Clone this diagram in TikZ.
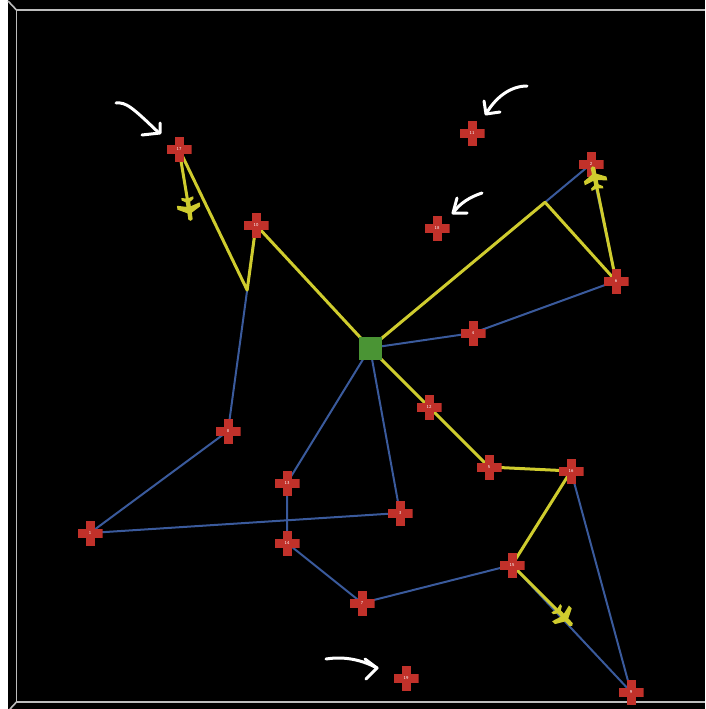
\documentclass[tikz,border=0pt]{standalone}
\usetikzlibrary{calc}
\definecolor{bgblack}{HTML}{000000}
\definecolor{framegrey}{HTML}{BDBDBD}
\definecolor{edgeblue}{HTML}{3A5A9C}
\definecolor{routeyellow}{HTML}{CFCC2E}
\definecolor{crossred}{HTML}{C1312A}
\definecolor{hubgreen}{HTML}{4A9434}
\pgfdeclarelayer{back}
\pgfdeclarelayer{bg}
\pgfsetlayers{back,bg,main}
\tikzset{
  crossnode/.style={inner sep=0pt, minimum size=25pt, text=white,
    font=\sffamily\fontsize{4.5}{5}\selectfont,
    path picture={
      \fill[crossred] ([xshift=-4.5pt]path picture bounding box.north) rectangle ([xshift=4.5pt]path picture bounding box.south);
      \fill[crossred] ([yshift=4.5pt]path picture bounding box.west) rectangle ([yshift=-4.5pt]path picture bounding box.east);
    }},
  hubnode/.style={fill=hubgreen, minimum size=23pt, inner sep=0pt},
  blueedge/.style={draw=edgeblue, line width=2pt},
  yellowedge/.style={draw=routeyellow, line width=3pt, line join=round},
  handarrow/.style={draw=white, line width=3pt, line cap=round, line join=round},
  frameline/.style={draw=framegrey, line width=1.6pt},
  plane/.pic={
    \begin{scope}[x=1pt,y=1pt]
    \fill[routeyellow] (12,0) -- (10.5,2.2) -- (4,2.2) -- (-1,11.5) -- (-5,11.5) -- (-2.5,2.2) -- (-7,2.2) -- (-9.5,6) -- (-12,6) -- (-10.5,0) -- (-12,-6) -- (-9.5,-6) -- (-7,-2.2) -- (-2.5,-2.2) -- (-5,-11.5) -- (-1,-11.5) -- (4,-2.2) -- (10.5,-2.2) -- cycle;
    \end{scope}
  }
}
\begin{document}
\begin{tikzpicture}[x=1pt,y=-1pt]
\useasboundingbox (0,0) rectangle (705,709);
\begin{pgfonlayer}{back}
\fill[white] (0,0) rectangle (705,709);
\fill[bgblack] (8,0) rectangle (705,709);
\draw[frameline] (705,10) -- (16.5,10) -- (16.5,702) -- (705,702);
\draw[frameline] (8,1) -- (16.5,10);
\draw[frameline] (16.5,702) -- (10,709);
\end{pgfonlayer}

% nodes
\node[hubnode] (hub) at (370,348) {};
\node[crossnode] (n17) at (179,149) {17};
\node[crossnode] (n10) at (256,225) {10};
\node[crossnode] (n11) at (472,133) {11};
\node[crossnode] (n18) at (437,228) {18};
\node[crossnode] (n2) at (591,164) {2};
\node[crossnode] (n6) at (616,281) {6};
\node[crossnode] (n4) at (473,333) {4};
\node[crossnode] (n12) at (429,407) {12};
\node[crossnode] (n5) at (489,467) {5};
\node[crossnode] (n16) at (571,471) {16};
\node[crossnode] (n8) at (228,431) {8};
\node[crossnode] (n13) at (287,483) {13};
\node[crossnode] (n3) at (400,513) {3};
\node[crossnode] (n1) at (90,533) {1};
\node[crossnode] (n14) at (287,543) {14};
\node[crossnode] (n7) at (362,603) {7};
\node[crossnode] (n15) at (512,565) {15};
\node[crossnode] (n9) at (631,692) {9};
\node[crossnode] (n19) at (406,678) {19};

\coordinate (kA) at ($(hub.center)!0.792!(n2.center)$);
\coordinate (kB) at ($(n10.center)!0.316!(n8.center)$);
\coordinate (pA) at (189,209);
\coordinate (pB) at (595,178);
\coordinate (pC) at (564,617);

\begin{pgfonlayer}{bg}
% blue edges
\draw[blueedge] (hub.center) -- (n2.center);
\draw[blueedge] (n2.center) -- (n6.center);
\draw[blueedge] (n6.center) -- (n4.center) -- (hub.center);
\draw[blueedge] (n10.center) -- (n8.center) -- (n1.center) -- (n3.center) -- (hub.center);
\draw[blueedge] (hub.center) -- (n13.center) -- (n14.center) -- (n7.center) -- (n15.center) -- (n9.center) -- (n16.center);
% yellow routes
\draw[yellowedge] (hub.center) -- (kA) -- (n6.center) -- (pB);
\draw[yellowedge] (hub.center) -- (n10.center) -- (kB) -- (n17.center) -- (pA);
\draw[yellowedge] (hub.center) -- (n12.center) -- (n5.center) -- (n16.center) -- (n15.center) -- (pC);
\end{pgfonlayer}

% planes
\pic[rotate=-81.5] at (pA) {plane};
\pic[rotate=102] at (pB) {plane};
\pic[rotate=-46.9] at (pC) {plane};

% hand-drawn arrows
\draw[handarrow] (116,103) .. controls (126,102) and (132,107) .. (159,133);
\draw[handarrow] (142,135) -- (160,133) -- (160,123);
\draw[handarrow] (527,86) .. controls (510,86) and (495,98) .. (486,114);
\draw[handarrow] (484,101) -- (486,114) -- (500,112);
\draw[handarrow] (482,193) .. controls (470,197) and (460,203) .. (453,213);
\draw[handarrow] (457,198) -- (453,213) -- (467,213);
\draw[handarrow] (326,659) .. controls (345,656) and (362,660) .. (377,668);
\draw[handarrow] (365,659) -- (377,668) -- (366,679);
\end{tikzpicture}
\end{document}
